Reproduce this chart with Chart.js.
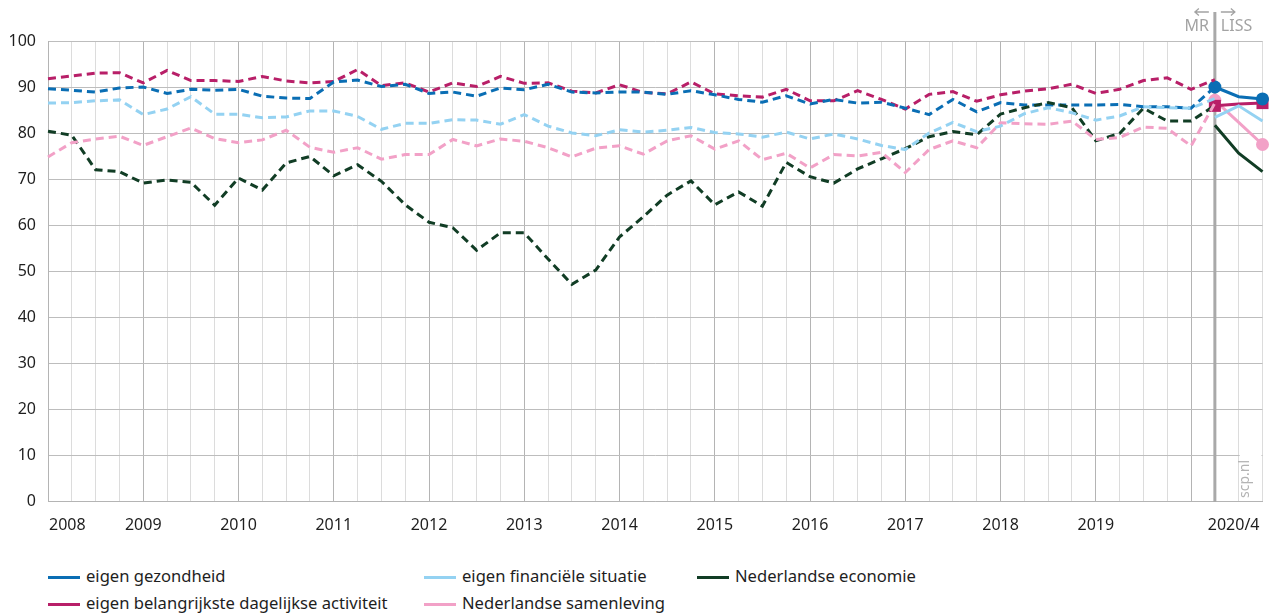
<!DOCTYPE html>
<html lang="nl">
<head>
<meta charset="utf-8">
<title>Verwachtingen</title>
<script src="https://cdn.jsdelivr.net/npm/chart.js@4.4.1/dist/chart.umd.min.js"></script>
<style>
    html, body { margin: 0; padding: 0; background: #fff; }
    #wrap { position: relative; width: 1271px; height: 614px; font-family: "Noto Sans", Lato, sans-serif; color: #1e1e1e; }
    #chart { position: absolute; left: 0; top: 0; }
    .legend-item { position: absolute; font-size: 16.6px; line-height: 20px; white-space: nowrap; }
    .legend-item span.swatch { position: absolute; left: 0; top: 9px; width: 32px; height: 3px; }
    .legend-item span.label { position: absolute; left: 38px; top: -1px; }
</style>
</head>
<body>
<div id="wrap">
    <canvas id="chart" width="1271" height="545"></canvas>
    <div id="legend"></div>
</div>
<script>
// kwartalen 2008/1 t/m 2020/1 (MR), daarna LISS-metingen
var quarters = [
    '2008/1','2008/2','2008/3','2008/4','2009/1','2009/2','2009/3','2009/4',
    '2010/1','2010/2','2010/3','2010/4','2011/1','2011/2','2011/3','2011/4',
    '2012/1','2012/2','2012/3','2012/4','2013/1','2013/2','2013/3','2013/4',
    '2014/1','2014/2','2014/3','2014/4','2015/1','2015/2','2015/3','2015/4',
    '2016/1','2016/2','2016/3','2016/4','2017/1','2017/2','2017/3','2017/4',
    '2018/1','2018/2','2018/3','2018/4','2019/1','2019/2','2019/3','2019/4',
    '2020/1','2020/2','2020/3','2020/4'
];
var tickLabels = {0: '2008', 4: '2009', 8: '2010', 12: '2011', 16: '2012', 20: '2013',
    24: '2014', 28: '2015', 32: '2016', 36: '2017', 40: '2018', 44: '2019', 51: '2020/4'};
var yTicks = [0, 10, 20, 30, 40, 50, 60, 70, 80, 90, 100];

// MR (gestippeld), 2008/1 - 2020/2
var gezondheidMR = [89.6, 89.3, 88.9, 89.8, 90.0, 88.6, 89.5, 89.3, 89.5, 88.0, 87.6, 87.5,
    91.1, 91.5, 90.1, 90.6, 88.6, 88.9, 88.0, 89.8, 89.4, 90.6, 88.9, 88.7,
    88.9, 88.9, 88.4, 89.2, 88.3, 87.3, 86.7, 88.1, 86.3, 87.3, 86.5, 86.7,
    85.4, 84.0, 87.3, 84.6, 86.6, 86.1, 86.1, 86.1, 86.1, 86.2, 85.7, 85.7, 85.4, 90.0];
var activiteitMR = [91.8, 92.4, 93.0, 93.1, 90.9, 93.6, 91.4, 91.4, 91.2, 92.3, 91.3, 90.9,
    91.2, 93.8, 90.3, 90.9, 88.9, 90.9, 90.1, 92.3, 90.8, 90.9, 89.1, 88.7,
    90.5, 88.8, 88.5, 91.1, 88.5, 88.1, 87.8, 89.5, 87.0, 87.0, 89.2, 87.3,
    85.2, 88.4, 89.0, 86.9, 88.3, 89.1, 89.6, 90.6, 88.6, 89.5, 91.4, 92.0, 89.5, 91.6];
var financieelMR = [86.5, 86.6, 87.0, 87.2, 84.0, 85.2, 87.9, 84.1, 84.1, 83.3, 83.5, 84.8,
    84.8, 83.6, 80.8, 82.1, 82.1, 82.9, 82.8, 81.9, 84.0, 81.5, 80.0, 79.4,
    80.7, 80.2, 80.6, 81.2, 80.1, 79.8, 79.1, 80.2, 78.7, 79.8, 78.7, 77.3,
    76.4, 80.0, 82.3, 80.3, 81.5, 84.2, 85.5, 84.4, 82.8, 83.7, 85.7, 85.5, 85.4, 87.5];
var samenlevingMR = [74.8, 77.9, 78.7, 79.3, 77.3, 79.2, 81.1, 78.8, 77.9, 78.5, 80.6, 76.9,
    75.8, 76.8, 74.3, 75.3, 75.3, 78.6, 77.2, 78.7, 78.2, 76.8, 74.8, 76.7,
    77.2, 75.4, 78.3, 79.4, 76.5, 78.3, 74.2, 75.6, 72.4, 75.3, 75.0, 75.8,
    71.4, 76.4, 78.3, 76.8, 82.2, 82.0, 81.9, 82.6, 78.6, 79.0, 81.3, 81.0, 77.2, 86.5];
var economieMR = [80.4, 79.5, 72.0, 71.6, 69.1, 69.8, 69.3, 64.3, 70.2, 67.6, 73.5, 74.9,
    70.7, 73.1, 69.5, 64.4, 60.6, 59.4, 54.5, 58.3, 58.3, 52.6, 47.1, 50.2,
    57.4, 61.8, 66.5, 69.6, 64.4, 67.2, 64.1, 73.6, 70.5, 69.1, 72.2, 74.4,
    76.6, 79.2, 80.3, 79.6, 84.1, 85.5, 86.6, 85.5, 78.3, 79.9, 85.4, 82.6, 82.6, 86.0];

// LISS (doorgetrokken), laatste drie metingen
var gezondheidLISS = [90.0, 87.9, 87.4];
var activiteitLISS = [85.9, 86.3, 86.5];
var financieelLISS = [83.4, 85.9, 82.6];
var samenlevingLISS = [87.1, 82.3, 77.5];
var economieLISS = [81.7, 75.6, 71.6];

var colors = {
    gezondheid: '#0a6eb4',
    activiteit: '#b81f68',
    financieel: '#94d2f2',
    samenleving: '#f2a1c7',
    economie: '#113d25'
};

var legendItems = [
    {label: 'eigen gezondheid', color: colors.gezondheid, left: 48, top: 567},
    {label: 'eigen financiële situatie', color: colors.financieel, left: 424, top: 567},
    {label: 'Nederlandse economie', color: colors.economie, left: 697, top: 567},
    {label: 'eigen belangrijkste dagelijkse activiteit', color: colors.activiteit, left: 48, top: 594},
    {label: 'Nederlandse samenleving', color: colors.samenleving, left: 424, top: 594}
];

var FONT = '"Noto Sans", Lato, sans-serif';
var MR_END = 49;   // index waar MR stopt en LISS begint

function mrData(values) {
    var out = values.slice();
    while (out.length < quarters.length) out.push(null);
    return out;
}
function lissData(values) {
    var out = [];
    for (var i = 0; i < MR_END; i++) out.push(null);
    return out.concat(values);
}
function dashed(values, color) {
    return {
        data: mrData(values),
        borderColor: color,
        backgroundColor: color,
        borderWidth: 3,
        borderDash: [8, 5],
        pointRadius: 0,
        tension: 0,
        fill: false
    };
}
function solid(values, color, style) {
    var r = style == 'rect' ? 8.5 : (style ? 6.5 : 0);
    var radii = quarters.map(function(q, i) {
        return (i == MR_END || i == quarters.length - 1) ? r : 0;
    });
    return {
        data: lissData(values),
        borderColor: color,
        backgroundColor: color,
        borderWidth: 3,
        pointRadius: radii,
        pointHoverRadius: radii,
        pointStyle: style || 'circle',
        pointBorderWidth: 0,
        tension: 0,
        fill: false,
        clip: false
    };
}

// MR/LISS scheidslijn en labels
var dividerPlugin = {
    id: 'divider',
    beforeDatasetsDraw: function(chart) {
        var ctx = chart.ctx;
        var x = chart.scales.x.getPixelForValue(MR_END);
        ctx.save();
        ctx.strokeStyle = '#a9a9a9';
        ctx.lineWidth = 3;
        ctx.beginPath();
        ctx.moveTo(x, 12);
        ctx.lineTo(x, chart.chartArea.bottom + 1);
        ctx.stroke();

        ctx.fillStyle = '#a3a3a3';
        ctx.font = '16px ' + FONT;
        ctx.textBaseline = 'middle';
        ctx.textAlign = 'right';
        ctx.fillText('MR', x - 6, 26);
        ctx.textAlign = 'left';
        ctx.fillText('LISS', x + 6, 26);

        // pijltjes
        ctx.strokeStyle = '#a3a3a3';
        ctx.lineWidth = 1.3;
        ctx.beginPath();
        ctx.moveTo(x - 6, 12); ctx.lineTo(x - 20, 12);
        ctx.moveTo(x - 16, 8.5); ctx.lineTo(x - 20, 12); ctx.lineTo(x - 16, 15.5);
        ctx.moveTo(x + 6, 12); ctx.lineTo(x + 20, 12);
        ctx.moveTo(x + 16, 8.5); ctx.lineTo(x + 20, 12); ctx.lineTo(x + 16, 15.5);
        ctx.stroke();

        // bronvermelding
        var xs = chart.scales.x.getPixelForValue(MR_END + 1);
        ctx.fillStyle = '#fff';
        ctx.fillRect(xs + 1, 452, chart.chartArea.right - xs - 2, chart.chartArea.bottom - 453);
        ctx.translate(xs + 6, chart.chartArea.bottom - 3);
        ctx.rotate(-Math.PI / 2);
        ctx.fillStyle = '#b3b3b3';
        ctx.font = '14px ' + FONT;
        ctx.textAlign = 'left';
        ctx.fillText('scp.nl', 0, 0);
        ctx.restore();
    }
};

// jaartallen onder de x-as
var xLabelPlugin = {
    id: 'xLabels',
    afterDraw: function(chart) {
        var ctx = chart.ctx;
        var scale = chart.scales.x;
        ctx.save();
        ctx.fillStyle = '#1e1e1e';
        ctx.font = '16px ' + FONT;
        ctx.textBaseline = 'middle';
        Object.keys(tickLabels).forEach(function(k) {
            var i = parseInt(k);
            var x = scale.getPixelForValue(i);
            if (i == 0) {
                ctx.textAlign = 'left';
                x += 1;
            } else if (i == quarters.length - 1) {
                ctx.textAlign = 'right';
                x -= 3;
            } else {
                ctx.textAlign = 'center';
            }
            ctx.fillText(tickLabels[k], x, chart.chartArea.bottom + 24);
        });
        ctx.restore();
    }
};

document.addEventListener("DOMContentLoaded", function() {
    var legend = document.getElementById('legend');
    legendItems.forEach(function(item) {
        var el = document.createElement('div');
        el.className = 'legend-item';
        el.style.left = item.left + 'px';
        el.style.top = item.top + 'px';
        el.innerHTML = '<span class="swatch" style="background:' + item.color + '"></span><span class="label"></span>';
        el.querySelector('.label').textContent = item.label;
        legend.appendChild(el);
    });

    var ctx = document.getElementById('chart').getContext('2d');
    new Chart(ctx, {
        type: 'line',
        data: {
            labels: quarters,
            datasets: [
                dashed(financieelMR, colors.financieel),
                dashed(samenlevingMR, colors.samenleving),
                dashed(economieMR, colors.economie),
                dashed(gezondheidMR, colors.gezondheid),
                dashed(activiteitMR, colors.activiteit),
                solid(financieelLISS, colors.financieel),
                solid(economieLISS, colors.economie),
                solid(gezondheidLISS, colors.gezondheid, 'circle'),
                solid(activiteitLISS, colors.activiteit, 'rect'),
                solid(samenlevingLISS, colors.samenleving, 'circle')
            ]
        },
        options: {
            responsive: false,
            animation: false,
            spanGaps: false,
            layout: { padding: { top: 41, right: 4, left: 0, bottom: 0 } },
            plugins: {
                legend: { display: false },
                tooltip: { enabled: false }
            },
            scales: {
                x: {
                    type: 'category',
                    offset: false,
                    grid: {
                        drawTicks: false,
                        color: function(c) { return c.index % 4 == 0 ? '#b4b4b4' : '#dcdcdc'; },
                        lineWidth: 1
                    },
                    border: { color: '#b4b4b4' },
                    ticks: { display: false },
                    afterFit: function(scale) { scale.height = 44; }
                },
                y: {
                    min: 0,
                    max: 100,
                    afterBuildTicks: function(scale) {
                        scale.ticks = yTicks.map(function(v) { return {value: v}; });
                    },
                    grid: { drawTicks: false, color: '#bdbdbd', lineWidth: 1 },
                    border: { color: '#b4b4b4' },
                    ticks: {
                        padding: 12,
                        color: '#1e1e1e',
                        font: { family: FONT, size: 16 }
                    },
                    afterFit: function(scale) { scale.width = 48; }
                }
            }
        },
        plugins: [dividerPlugin, xLabelPlugin]
    });
});
</script>
</body>
</html>
